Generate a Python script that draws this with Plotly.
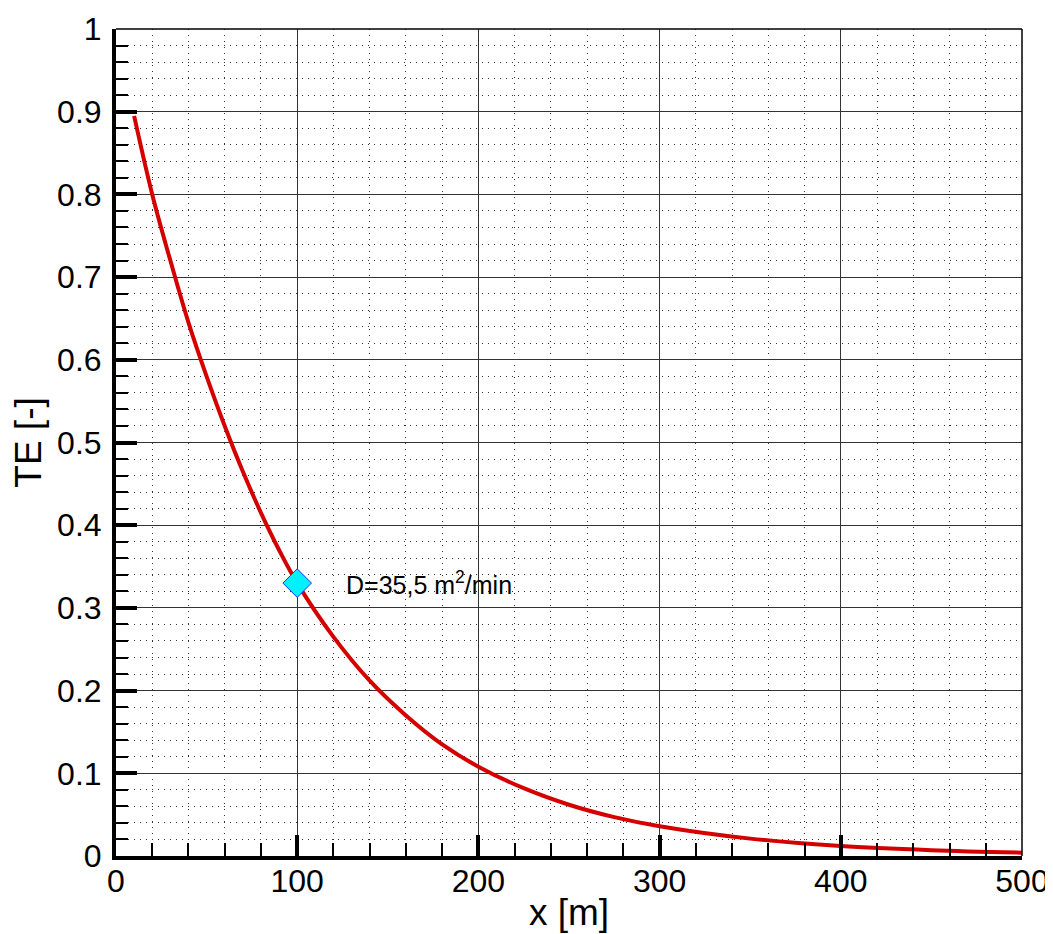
import plotly.graph_objects as go

# values
x_vals = [10, 20, 30, 40, 50, 60, 70, 80, 90, 100, 120, 140, 160, 180, 200,
          225, 250, 275, 300, 350, 400, 450, 500]
te_vals = [0.895, 0.80, 0.72, 0.645, 0.58, 0.52, 0.465, 0.415, 0.37, 0.33,
           0.265, 0.212, 0.17, 0.135, 0.108, 0.082, 0.062, 0.047, 0.036,
           0.021, 0.012, 0.007, 0.004]

point_x = [100]
point_y = [0.33]
point_label = "D=35,5 m<sup>2</sup>/min"

fig = go.Figure()
fig.add_trace(go.Scatter(x=x_vals, y=te_vals, mode="lines",
                         line=dict(color="#d40000", width=4, shape="spline"),
                         showlegend=False))
fig.add_trace(go.Scatter(x=point_x, y=point_y, mode="markers",
                         marker=dict(symbol="diamond", size=22, color="#00f0ff",
                                     line=dict(color="#2030ff", width=1)),
                         showlegend=False))
fig.add_annotation(x=126, y=point_y[0], text=point_label, showarrow=False,
                   xanchor="left", yanchor="middle",
                   font=dict(size=25, color="black"))

# thin top/right frame
fig.add_shape(type="line", xref="paper", yref="paper", x0=0, x1=1, y0=1, y1=1,
              line=dict(color="black", width=1.5))
fig.add_shape(type="line", xref="paper", yref="paper", x0=1, x1=1, y0=0, y1=1,
              line=dict(color="black", width=1.5))

axis_common = dict(
    showline=True, linecolor="black", linewidth=4,
    ticks="inside", ticklen=21, tickwidth=4, tickcolor="black",
    showgrid=True, gridcolor="#333333", gridwidth=1.2,
    zeroline=False, automargin=False,
    tickfont=dict(size=32, color="black"),
)
minor_grid = dict(ticks="inside", tickwidth=1.5, tickcolor="black",
                  showgrid=True, griddash="1px,5px",
                  gridcolor="#333333", gridwidth=1.2)

fig.update_xaxes(range=[0, 500], dtick=100, ticklabelstandoff=-6,
                 minor=dict(dtick=20, ticklen=13, **minor_grid),
                 title=dict(text="x [m]", font=dict(size=37, color="black"), standoff=2),
                 **axis_common)
fig.update_yaxes(range=[0, 1], dtick=0.1, ticklabelstandoff=4,
                 minor=dict(dtick=0.02, ticklen=12, **minor_grid),
                 title=dict(text="TE [-]", font=dict(size=37, color="black"), standoff=6),
                 **axis_common)

fig.update_layout(width=1053, height=926,
                  margin=dict(l=108, r=39, t=21, b=78),
                  plot_bgcolor="white", paper_bgcolor="white",
                  font=dict(family="Liberation Sans, Arial, sans-serif", color="black"))

fig.write_html("out.html")
